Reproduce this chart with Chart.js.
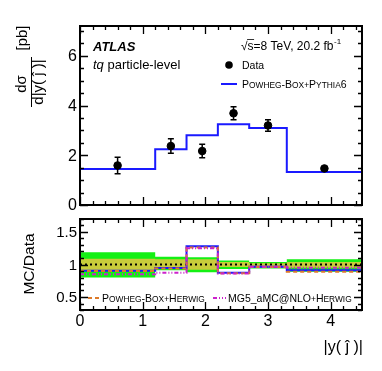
<!DOCTYPE html>
<html>
<head>
<meta charset="utf-8">
<script src="https://cdn.jsdelivr.net/npm/chart.js@4.4.1/dist/chart.umd.min.js"></script>
<style>
  html, body { margin: 0; padding: 0; background: #fff; }
  #wrap { position: relative; width: 382px; height: 371px; }
  canvas { position: absolute; left: 0; }
</style>
</head>
<body>
<div id="wrap">
  <canvas id="topChart" width="382" height="212" style="top:0"></canvas>
  <canvas id="ratioChart" width="382" height="159" style="top:212px"></canvas>
</div>
<script>
// bin edges in |y(j)|
const binEdges = [0, 1.2, 1.7, 2.2, 2.7, 3.3, 4.5];

// measured data (top panel)
const dataX = [0.6, 1.45, 1.95, 2.45, 3.0, 3.9];
const dataY = [1.59, 2.37, 2.17, 3.69, 3.20, 1.47];
const dataErr = [0.33, 0.29, 0.27, 0.26, 0.23, 0.07];

// Powheg-Box+Pythia6 prediction
const powhegPy6 = [1.45, 2.24, 2.81, 3.25, 3.10, 1.33];

// ratio panel: MC / Data
const ratioPy6 = [0.905, 0.945, 1.28, 0.875, 0.965, 0.91];
const ratioHerwig = [0.90, 0.94, 1.26, 0.865, 0.96, 0.89];
const ratioMG5 = [0.85, 0.875, 1.25, 0.86, 0.965, 0.95];

// uncertainty bands (total = green, stat = yellow)
const totUp = [1.19, 1.12, 1.11, 1.06, 1.04, 1.08];
const totDn = [0.80, 0.91, 0.88, 0.93, 0.94, 0.89];
const statUp = [1.09, 1.08, 1.08, 1.04, 1.02, 1.04];
const statDn = [0.91, 0.93, 0.92, 0.96, 0.97, 0.95];
const unity = [1, 1, 1, 1, 1, 1];

// axis ticks
const xTicks = [0, 1, 2, 3, 4];
const topYTicks = [0, 2, 4, 6];
const ratioYTicks = [0.5, 1, 1.5];

const FONT = '"Liberation Sans", Arial, Helvetica, sans-serif';

// turn bin contents into a histogram outline
function histPoints(vals, fromZero) {
    let pts = fromZero ? [{x: binEdges[0], y: 0}] : [];
    vals.forEach(function(v, i) {
        pts.push({x: binEdges[i], y: v});
        pts.push({x: binEdges[i + 1], y: v});
    });
    return pts;
}

// pieces: [text, small?] -- small pieces are drawn upper case at reduced size
function smallCaps(ctx, pieces, x, y, big, small) {
    pieces.forEach(function(p) {
        const txt = p[1] ? p[0].toUpperCase() : p[0];
        ctx.font = (p[1] ? small : big) + 'px ' + FONT;
        ctx.fillText(txt, x, y);
        x += ctx.measureText(txt).width;
    });
    return x;
}

// frame with inward ticks on all four sides
function drawFrame(chart, yMinorStep, xLabels, yLabels, yFont, yDigits) {
    const ctx = chart.ctx;
    const a = chart.chartArea;
    const xs = chart.scales.x, ys = chart.scales.y;
    ctx.save();
    ctx.strokeStyle = '#000';
    ctx.lineWidth = 1.3;
    ctx.beginPath();
    // x ticks, minor every 0.2
    for (let i = 0; i <= 22; i++) {
        const v = i * 0.2;
        const px = Math.round(xs.getPixelForValue(v)) + 0.5;
        const len = (i % 5 === 0) ? 8 : 4;
        ctx.moveTo(px, a.bottom); ctx.lineTo(px, a.bottom - len);
        ctx.moveTo(px, a.top); ctx.lineTo(px, a.top + len);
    }
    // y ticks
    const nMin = Math.ceil(ys.min / yMinorStep - 1e-6);
    const nMax = Math.floor(ys.max / yMinorStep + 1e-6);
    for (let n = nMin; n <= nMax; n++) {
        const v = n * yMinorStep;
        const major = yLabels.some(t => Math.abs(t - v) < 1e-6);
        const py = Math.round(ys.getPixelForValue(v)) + 0.5;
        const len = major ? 8 : 4;
        ctx.moveTo(a.left, py); ctx.lineTo(a.left + len, py);
        ctx.moveTo(a.right, py); ctx.lineTo(a.right - len, py);
    }
    ctx.stroke();
    ctx.lineWidth = 2;
    ctx.strokeRect(a.left, a.top, a.right - a.left, a.bottom - a.top);

    ctx.fillStyle = '#000';
    ctx.font = yFont + 'px ' + FONT;
    ctx.textAlign = 'right';
    ctx.textBaseline = 'middle';
    yLabels.forEach(function(t) {
        ctx.fillText(t.toFixed(yDigits(t)), 77, ys.getPixelForValue(t) + 1);
    });
    if (xLabels) {
        ctx.textAlign = 'center';
        ctx.textBaseline = 'top';
        ctx.font = '16px ' + FONT;
        xLabels.forEach(function(t) {
            ctx.fillText(String(t), xs.getPixelForValue(t), a.bottom + 4);
        });
    }
    ctx.restore();
}

const errorBars = {
    id: 'errorBars',
    afterDatasetsDraw(chart) {
        const ctx = chart.ctx;
        const xs = chart.scales.x, ys = chart.scales.y;
        ctx.save();
        ctx.strokeStyle = '#000';
        ctx.lineWidth = 1.5;
        ctx.beginPath();
        dataX.forEach(function(x, i) {
            const px = xs.getPixelForValue(x);
            const top = ys.getPixelForValue(dataY[i] + dataErr[i]);
            const bot = ys.getPixelForValue(dataY[i] - dataErr[i]);
            ctx.moveTo(px, top); ctx.lineTo(px, bot);
            ctx.moveTo(px - 3, top); ctx.lineTo(px + 3, top);
            ctx.moveTo(px - 3, bot); ctx.lineTo(px + 3, bot);
        });
        ctx.stroke();
        ctx.restore();
    }
};

const topDecor = {
    id: 'topDecor',
    afterDraw(chart) {
        drawFrame(chart, 0.5, null, topYTicks, 16, () => 0);
        const ctx = chart.ctx;
        ctx.save();
        ctx.fillStyle = '#000';
        ctx.textAlign = 'left';
        ctx.textBaseline = 'alphabetic';
        ctx.font = 'italic bold 13px ' + FONT;
        ctx.fillText('ATLAS', 93, 51);
        ctx.font = 'italic 13px ' + FONT;
        ctx.fillText('tq', 93, 69);
        let w = ctx.measureText('tq ').width;
        ctx.font = '13px ' + FONT;
        ctx.fillText('particle-level', 93 + w, 69);

        // sqrt(s) label
        ctx.font = '12px ' + FONT;
        let x0 = 241;
        ctx.fillText('\u221A', x0, 50);
        let xs = x0 + ctx.measureText('\u221A').width;
        ctx.fillText('s=8 TeV, 20.2 fb', xs, 50);
        let sw = ctx.measureText('s').width;
        ctx.lineWidth = 0.8;
        ctx.beginPath();
        ctx.moveTo(xs - 0.5, 39.5); ctx.lineTo(xs + sw + 0.5, 39.5);
        ctx.stroke();
        let xe = xs + ctx.measureText('s=8 TeV, 20.2 fb').width;
        ctx.font = '8px ' + FONT;
        ctx.fillText('-1', xe + 0.5, 44);

        // legend
        ctx.beginPath();
        ctx.arc(229, 65, 3.8, 0, Math.PI * 2);
        ctx.fill();
        ctx.font = '10.5px ' + FONT;
        ctx.fillText('Data', 242, 69);
        ctx.strokeStyle = '#1a1aff';
        ctx.lineWidth = 2;
        ctx.beginPath();
        ctx.moveTo(221, 84); ctx.lineTo(237, 84);
        ctx.stroke();
        smallCaps(ctx, [['P', 0], ['owheg', 1], ['-', 0], ['B', 0], ['ox', 1], ['+', 1],
                        ['P', 0], ['ythia', 1], ['6', 0]], 242, 88, 10.5, 8.4);

        // y title (rotated fraction)
        ctx.font = '15px ' + FONT;
        ctx.textAlign = 'center';
        ctx.textBaseline = 'middle';
        function rot(text, cx, cy) {
            ctx.save();
            ctx.translate(cx, cy);
            ctx.rotate(-Math.PI / 2);
            ctx.fillText(text, 0, 0);
            ctx.restore();
        }
        rot('d\u03C3', 22, 84);
        rot('d|y( \u0135 )|', 39, 82);
        rot('[pb]', 23, 38);
        ctx.strokeStyle = '#000';
        ctx.lineWidth = 1;
        ctx.beginPath();
        ctx.moveTo(31.5, 57); ctx.lineTo(31.5, 107);
        ctx.stroke();
        ctx.restore();
    }
};

const ratioDecor = {
    id: 'ratioDecor',
    afterDraw(chart) {
        const ctx = chart.ctx;
        ctx.save();
        // legend inside ratio panel
        ctx.lineWidth = 2;
        ctx.strokeStyle = '#dd7a2a';
        ctx.setLineDash([4, 3]);
        ctx.beginPath();
        ctx.moveTo(88, 86); ctx.lineTo(101, 86);
        ctx.stroke();
        ctx.strokeStyle = '#cc22cc';
        ctx.setLineDash([4, 2, 1, 2, 1, 2]);
        ctx.beginPath();
        ctx.moveTo(213, 86); ctx.lineTo(226, 86);
        ctx.stroke();
        ctx.setLineDash([]);
        ctx.fillStyle = '#000';
        ctx.textAlign = 'left';
        ctx.textBaseline = 'alphabetic';
        smallCaps(ctx, [['P', 0], ['owheg', 1], ['-', 0], ['B', 0], ['ox', 1], ['+', 1],
                        ['H', 0], ['erwig', 1]], 102, 90, 10.5, 8.4);
        smallCaps(ctx, [['MG5_aMC@NLO', 0], ['+', 1], ['H', 0], ['erwig', 1]], 228, 90, 10.5, 8.4);
        ctx.restore();

        drawFrame(chart, 0.1, xTicks, ratioYTicks, 15, t => (t % 1 === 0 ? 0 : 1));

        ctx.save();
        ctx.fillStyle = '#000';
        ctx.font = '15.5px ' + FONT;
        ctx.textAlign = 'center';
        ctx.textBaseline = 'middle';
        ctx.save();
        ctx.translate(30, 52);
        ctx.rotate(-Math.PI / 2);
        ctx.fillText('MC/Data', 0, 0);
        ctx.restore();
        ctx.font = '16px ' + FONT;
        ctx.textAlign = 'right';
        ctx.fillText('|y( \u0135 )|', 363, 136);
        ctx.restore();
    }
};

new Chart(document.getElementById('topChart'), {
    type: 'scatter',
    data: {
        datasets: [
            {
                label: 'Data',
                data: dataX.map((x, i) => ({x: x, y: dataY[i]})),
                backgroundColor: '#000',
                borderColor: '#000',
                pointRadius: 3.8,
                order: 0
            },
            {
                label: 'Powheg-Box+Pythia6',
                data: histPoints(powhegPy6, true),
                showLine: true,
                borderColor: '#1a1aff',
                borderWidth: 2,
                pointRadius: 0,
                fill: false,
                order: 1
            }
        ]
    },
    options: {
        responsive: false,
        animation: false,
        layout: { padding: { left: 80, right: 20, top: 26, bottom: 7 } },
        plugins: { legend: { display: false }, tooltip: { enabled: false } },
        scales: {
            x: { type: 'linear', min: 0, max: 4.5, display: false },
            y: { type: 'linear', min: 0, max: 7.2, display: false }
        }
    },
    plugins: [errorBars, topDecor]
});

new Chart(document.getElementById('ratioChart'), {
    type: 'scatter',
    data: {
        datasets: [
            { data: histPoints(totUp), showLine: true, borderColor: 'transparent', pointRadius: 0, fill: false, order: 10 },
            { data: histPoints(totDn), showLine: true, borderColor: 'transparent', pointRadius: 0, fill: '-1', backgroundColor: '#14f014', order: 10 },
            { data: histPoints(statUp), showLine: true, borderColor: 'transparent', pointRadius: 0, fill: false, order: 9 },
            { data: histPoints(statDn), showLine: true, borderColor: 'transparent', pointRadius: 0, fill: '-1', backgroundColor: '#c8cc3a', order: 9 },
            { data: histPoints(unity), showLine: true, borderColor: '#000', borderWidth: 2, borderDash: [2, 3], pointRadius: 0, order: 5 },
            { label: 'Powheg-Box+Pythia6', data: histPoints(ratioPy6), showLine: true, borderColor: '#1a1aff', borderWidth: 2, pointRadius: 0, order: 4 },
            { label: 'Powheg-Box+Herwig', data: histPoints(ratioHerwig), showLine: true, borderColor: '#dd7a2a', borderWidth: 2, borderDash: [4, 3], pointRadius: 0, order: 3 },
            { label: 'MG5_aMC@NLO+Herwig', data: histPoints(ratioMG5), showLine: true, borderColor: '#cc22cc', borderWidth: 2, borderDash: [4, 2, 1, 2, 1, 2], pointRadius: 0, order: 2 }
        ]
    },
    options: {
        responsive: false,
        animation: false,
        layout: { padding: { left: 80, right: 20, top: 7, bottom: 61 } },
        plugins: { legend: { display: false }, tooltip: { enabled: false } },
        scales: {
            x: { type: 'linear', min: 0, max: 4.5, display: false },
            y: { type: 'linear', min: 0.3, max: 1.7, display: false }
        }
    },
    plugins: [ratioDecor]
});
</script>
</body>
</html>
